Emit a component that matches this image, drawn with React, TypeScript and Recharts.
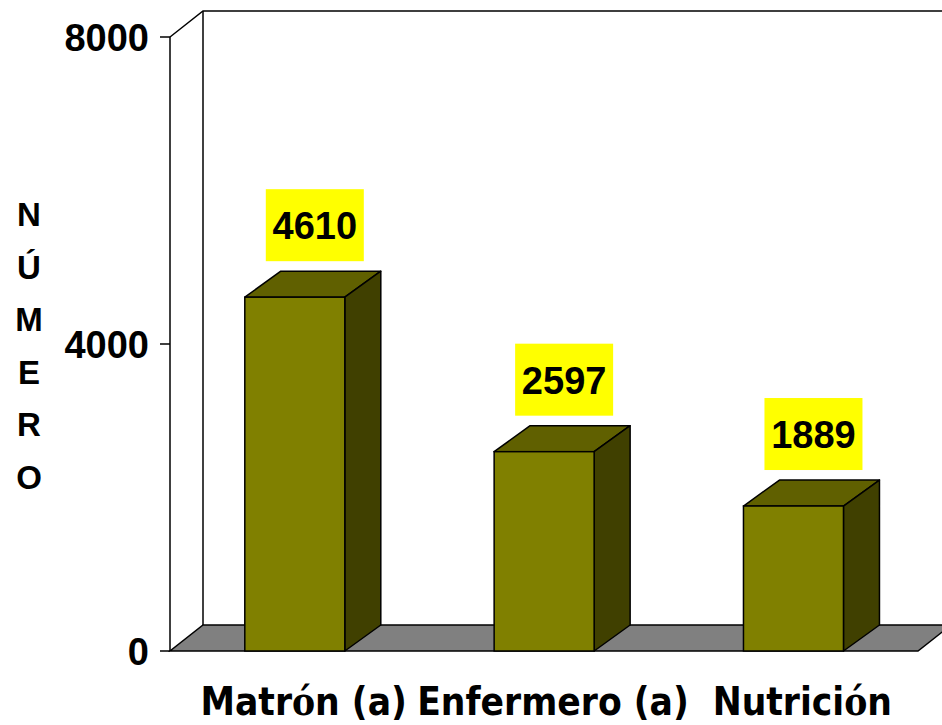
import React from 'react';
import { BarChart, Bar, XAxis, YAxis, ReferenceArea } from 'recharts';

const categories = ['Matrón (a)', 'Enfermero (a)', 'Nutrición'];
const values = [4610, 2597, 1889];
const yTicks = [0, 4000, 8000];
const axisTitle = ['N', 'Ú', 'M', 'E', 'R', 'O'];

const data = categories.map((name, i) => ({ name, value: values[i] }));

const W = 942;
const H = 725;
const BAR_DX = 36;
const BAR_DY = 26;
const WALL_DX = 33;
const WALL_DY = 26;

const FRONT = '#808000';
const TOP = '#606000';
const SIDE = '#404000';
const FLOOR = '#808080';

const Walls = (props: any) => {
  const { x, y, width, height } = props;
  const bottom = y + height;
  const right = x + width;
  return (
    <g>
      <polyline
        points={`${x},${y} ${x + WALL_DX},${y - WALL_DY} ${W + 10},${y - WALL_DY}`}
        fill="none"
        stroke="#000"
        strokeWidth={1.5}
      />
      <line x1={x + WALL_DX} y1={y - WALL_DY} x2={x + WALL_DX} y2={bottom - WALL_DY} stroke="#000" strokeWidth={1.5} />
      <polygon
        points={`${x},${bottom} ${right},${bottom} ${right + WALL_DX},${bottom - WALL_DY} ${x + WALL_DX},${bottom - WALL_DY}`}
        fill={FLOOR}
        stroke="#000"
        strokeWidth={1.5}
      />
      <text
        x={29}
        y={226}
        textAnchor="middle"
        fontFamily="'Liberation Sans', Arial, sans-serif"
        fontWeight="bold"
        fontSize={33}
        fill="#000"
      >
        {axisTitle.map((ch, i) => (
          <tspan key={i} x={29} dy={i === 0 ? 0 : 52.5}>
            {ch}
          </tspan>
        ))}
      </text>
    </g>
  );
};

const Box3D = (props: any) => {
  const { x, y, width, height, value } = props;
  if (width == null || height == null) return null;
  const r = x + width;
  const b = y + height;
  const cx = x + width / 2 + 20;
  const boxW = 98;
  const boxH = 72;
  const boxBottom = y - 36;
  return (
    <g>
      <polygon
        points={`${x},${y} ${x + BAR_DX},${y - BAR_DY} ${r + BAR_DX},${y - BAR_DY} ${r},${y}`}
        fill={TOP}
        stroke="#000"
        strokeWidth={1.5}
        strokeLinejoin="round"
      />
      <polygon
        points={`${r},${y} ${r + BAR_DX},${y - BAR_DY} ${r + BAR_DX},${b - BAR_DY} ${r},${b}`}
        fill={SIDE}
        stroke="#000"
        strokeWidth={1.5}
        strokeLinejoin="round"
      />
      <rect x={x} y={y} width={width} height={height} fill={FRONT} stroke="#000" strokeWidth={1.5} />
      <rect x={cx - boxW / 2} y={boxBottom - boxH} width={boxW} height={boxH} fill="#ffff00" />
      <text
        x={cx}
        y={boxBottom - boxH / 2 + 14}
        textAnchor="middle"
        fontFamily="'Liberation Sans', Arial, sans-serif"
        fontWeight="bold"
        fontSize={38}
        fill="#000"
      >
        {value}
      </text>
    </g>
  );
};

const XTick = (props: any) => {
  const { x, payload } = props;
  const label: string = payload.value;
  const chars = Array.from(label);
  return (
    <text
      x={x + 9}
      y={715}
      textAnchor="middle"
      fontFamily="'DejaVu Sans Condensed', 'DejaVu Sans', sans-serif"
      fontWeight="bold"
      fontSize={38.5}
      fill="#000"
    >
      {chars.map((c, i) =>
        /[óíúéá]/.test(c) ? (
          <tspan key={i} fontFamily="'DejaVu Serif Condensed', 'DejaVu Serif', serif">
            {c}
          </tspan>
        ) : (
          <tspan key={i}>{c}</tspan>
        )
      )}
    </text>
  );
};

const YTick = (props: any) => {
  const { y, payload } = props;
  return (
    <text
      x={149}
      y={y + 14}
      textAnchor="end"
      fontFamily="'Liberation Sans', Arial, sans-serif"
      fontWeight="bold"
      fontSize={38}
      fill="#000"
    >
      {payload.value}
    </text>
  );
};

export default function App() {
  return (
    <div style={{ position: 'absolute', left: 0, top: 0, width: W, height: H, background: '#fff' }}>
      <BarChart
        width={W}
        height={H}
        data={data}
        margin={{ top: 37, right: 24, bottom: 0, left: 0 }}
        barCategoryGap="30%"
      >
        <ReferenceArea y1={0} y2={8000} shape={Walls} ifOverflow="visible" />
        <XAxis
          dataKey="name"
          axisLine={false}
          tickLine={false}
          height={74}
          tick={XTick}
          interval={0}
        />
        <YAxis
          width={170}
          domain={[0, 8000]}
          ticks={yTicks}
          interval={0}
          axisLine={{ stroke: '#000', strokeWidth: 1.5 }}
          tickLine={{ stroke: '#000', strokeWidth: 1.5 }}
          tickSize={10}
          tick={YTick}
        />
        <Bar dataKey="value" shape={Box3D} isAnimationActive={false} />
      </BarChart>
    </div>
  );
}
